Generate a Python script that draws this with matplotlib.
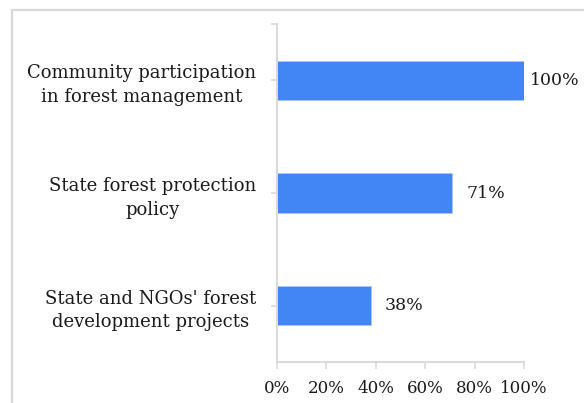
import matplotlib.pyplot as plt
from matplotlib.patches import Rectangle

categories = ['State and NGOs\' forest\ndevelopment projects',
              'State forest protection\npolicy',
              'Community participation\nin forest management']
values = [38, 71, 100]
xticks = [0, 20, 40, 60, 80, 100]

plt.rcParams['font.family'] = ['DejaVu Serif']

W, H = 584, 403
fig = plt.figure(figsize=(W / 100, H / 100), dpi=100)

# light frame round the chart area (runs off right and bottom)
fig.add_artist(Rectangle((12 / W, -0.05), 1.2, 1.05 - 10 / H, transform=fig.transFigure,
                         fill=False, edgecolor='#d9d9d9', linewidth=1.6))

ax = fig.add_axes([277 / W, (H - 362) / H, (524 - 277) / W, (362 - 24) / H])

y = list(range(len(categories)))
ax.barh(y, values, height=0.35, color='#4285f4', edgecolor='#a9c7f8', linewidth=0.6)

for yi, v in zip(y, values):
    off = 4 if v >= 100 else 10
    ax.annotate(f'{v}%', (v, yi), xytext=(off, 0), textcoords='offset points',
                va='center', ha='left', fontsize=12.5, color='#1a1a1a')

ax.set_xlim(0, 100)
ax.set_ylim(-0.5, len(categories) - 0.5)
ax.set_xticks(xticks)
ax.set_xticklabels([f'{t}%' for t in xticks], fontsize=12)
ax.set_yticks(y)
ax.set_yticklabels(categories, fontsize=13, multialignment='center', linespacing=1.4)
ax.set_yticks([len(categories) - 0.5], minor=True)

for s in ['top', 'right']:
    ax.spines[s].set_visible(False)
for s in ['left', 'bottom']:
    ax.spines[s].set_color('#d9d9d9')
    ax.spines[s].set_linewidth(1.4)

ax.tick_params(axis='x', length=5, width=1.2, color='#d9d9d9', pad=8, labelcolor='#1a1a1a')
ax.tick_params(axis='y', which='both', length=4, width=1.2, color='#d9d9d9', pad=11,
               labelcolor='#1a1a1a')

fig.savefig('out.png', dpi=100)
